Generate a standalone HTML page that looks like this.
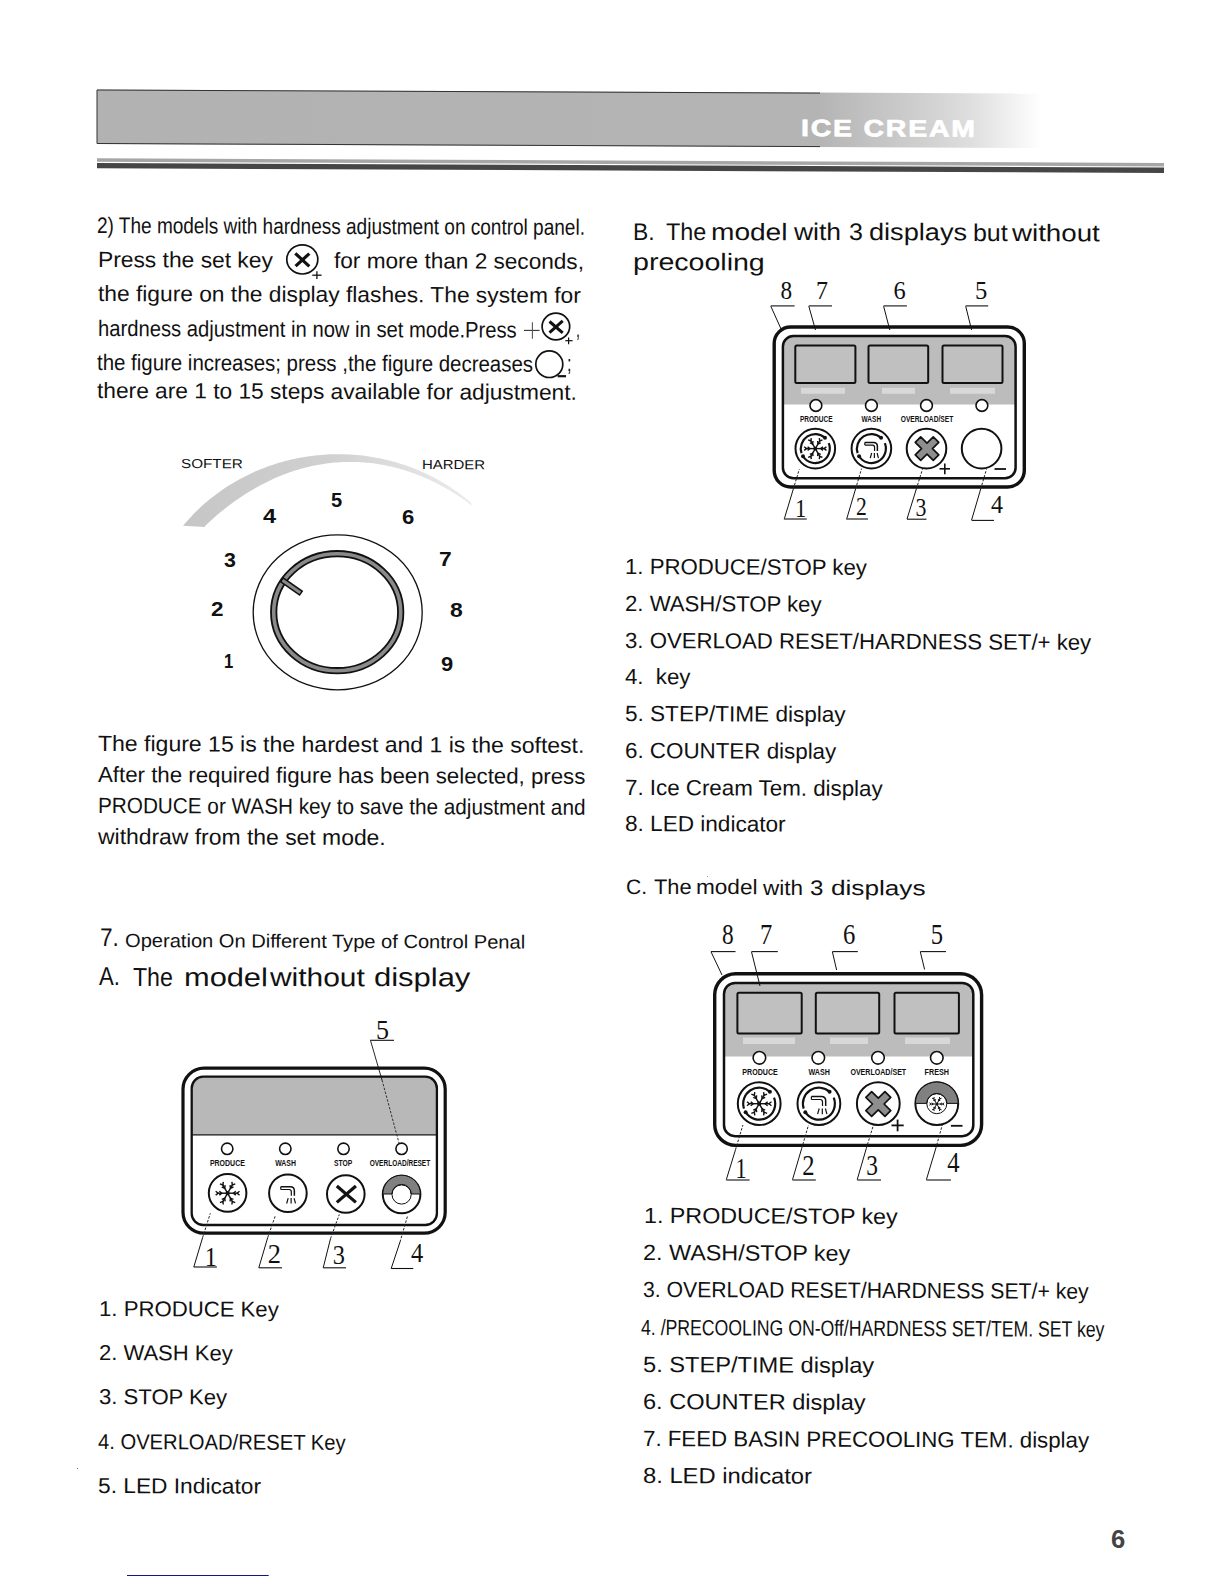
<!DOCTYPE html>
<html><head><meta charset="utf-8"><style>
html,body{margin:0;padding:0;background:#fff}
body{width:1224px;height:1584px;position:relative;overflow:hidden}
.t{position:absolute;white-space:nowrap}
svg{position:absolute;left:0;top:0}
</style></head><body>
<svg width="1224" height="1584" viewBox="0 0 1224 1584"><defs><linearGradient id="hg" x1="97" y1="0" x2="1040" y2="0" gradientUnits="userSpaceOnUse"><stop offset="0" stop-color="#b2b2b2"/><stop offset="0.765" stop-color="#b4b4b4"/><stop offset="0.82" stop-color="#c2c2c2"/><stop offset="0.873" stop-color="#cfcfcf"/><stop offset="0.926" stop-color="#dedede"/><stop offset="0.968" stop-color="#f0f0f0"/><stop offset="1" stop-color="#fefefe"/></linearGradient></defs><polygon points="97,89.5 1040,93.5549 1040,148.0549 97,144.0" fill="url(#hg)"/><polyline points="820,93.1089 97,90.0 97,143.5 820,146.6089" fill="none" stroke="#333" stroke-width="1"/><polygon points="97,158.3 1164,162.8881 1164,166.3881 97,161.8" fill="#a6a6a6"/><polygon points="97,163.0 1164,167.5881 1164,172.8881 97,168.3" fill="#464646"/><ellipse cx="302.3" cy="259.4" rx="15.5" ry="14.6" stroke="#111" stroke-width="1.7" fill="none" /><line x1="295.3" y1="253.4" x2="309.3" y2="266.4" stroke="#111" stroke-width="3.2" /><line x1="309.3" y1="253.6" x2="295.6" y2="266.1" stroke="#111" stroke-width="3.2" /><line x1="312.3" y1="275.2" x2="321.6" y2="275.2" stroke="#111" stroke-width="1.3" /><line x1="316.9" y1="271.3" x2="316.9" y2="279.1" stroke="#111" stroke-width="1.3" /><line x1="524" y1="330.4" x2="539.6" y2="330.4" stroke="#333" stroke-width="1.1" /><line x1="532.4" y1="322.3" x2="532.4" y2="338.8" stroke="#555" stroke-width="1.1" /><ellipse cx="555.9" cy="326.5" rx="13.8" ry="13.4" stroke="#111" stroke-width="1.7" fill="none" /><line x1="549.5" y1="321.5" x2="562.7" y2="332.9" stroke="#111" stroke-width="3" /><line x1="562.7" y1="320.8" x2="549.5" y2="332.6" stroke="#111" stroke-width="3" /><line x1="565.3" y1="340.7" x2="572.6" y2="340.7" stroke="#111" stroke-width="1.2" /><line x1="568.6" y1="337.4" x2="568.6" y2="344.3" stroke="#111" stroke-width="1.2" /><ellipse cx="549.3" cy="364.2" rx="13.5" ry="13.3" stroke="#111" stroke-width="1.7" fill="none" /><line x1="557.6" y1="376.2" x2="566" y2="376.2" stroke="#111" stroke-width="2.2" /><defs><linearGradient id="ag" x1="183" y1="0" x2="472" y2="0" gradientUnits="userSpaceOnUse"><stop offset="0" stop-color="#c6c6c6"/><stop offset="0.5" stop-color="#d0d0d0"/><stop offset="1" stop-color="#ececec"/></linearGradient></defs><path d="M183.0,525.8 L186.0,522.3 L189.0,518.9 L192.0,515.7 L195.0,512.6 L198.0,509.7 L201.0,506.8 L204.0,504.1 L207.0,501.6 L210.0,499.1 L213.0,496.7 L216.0,494.4 L219.0,492.2 L222.0,490.1 L225.0,488.0 L228.0,486.1 L231.0,484.2 L234.0,482.4 L237.0,480.7 L240.0,479.0 L243.0,477.4 L246.0,475.9 L249.0,474.4 L252.0,473.0 L255.0,471.6 L258.0,470.3 L261.0,469.1 L264.0,467.9 L267.0,466.8 L270.0,465.7 L273.0,464.7 L276.0,463.7 L279.0,462.8 L282.0,461.9 L285.0,461.1 L288.0,460.4 L291.0,459.6 L294.0,459.0 L297.0,458.3 L300.0,457.7 L303.0,457.2 L306.0,456.7 L309.0,456.3 L312.0,455.9 L315.0,455.5 L318.0,455.2 L321.0,454.9 L324.0,454.7 L327.0,454.5 L330.0,454.3 L333.0,454.2 L336.0,454.2 L339.0,454.2 L342.0,454.2 L345.0,454.3 L348.0,454.4 L351.0,454.6 L354.0,454.8 L357.0,455.0 L360.0,455.3 L363.0,455.6 L366.0,456.0 L369.0,456.4 L372.0,456.9 L375.0,457.4 L378.0,458.0 L381.0,458.6 L384.0,459.2 L387.0,459.9 L390.0,460.7 L393.0,461.5 L396.0,462.3 L399.0,463.2 L402.0,464.2 L405.0,465.1 L408.0,466.2 L411.0,467.3 L414.0,468.4 L417.0,469.6 L420.0,470.9 L423.0,472.2 L426.0,473.6 L429.0,475.0 L432.0,476.5 L435.0,478.1 L438.0,479.7 L441.0,481.4 L444.0,483.2 L447.0,485.0 L450.0,486.9 L453.0,488.9 L456.0,491.0 L459.0,493.1 L462.0,495.4 L465.0,497.7 L468.0,500.1 L471.0,502.7 L472.0,505.7 L469.0,503.4 L466.0,501.2 L463.0,499.1 L460.0,497.1 L457.0,495.1 L454.0,493.2 L451.0,491.3 L448.0,489.5 L445.0,487.8 L442.0,486.2 L439.0,484.5 L436.0,483.0 L433.0,481.5 L430.0,480.1 L427.0,478.7 L424.0,477.4 L421.0,476.1 L418.0,474.9 L415.0,473.8 L412.0,472.7 L409.0,471.7 L406.0,470.7 L403.0,469.7 L400.0,468.9 L397.0,468.0 L394.0,467.3 L391.0,466.5 L388.0,465.9 L385.0,465.3 L382.0,464.7 L379.0,464.2 L376.0,463.7 L373.0,463.3 L370.0,463.0 L367.0,462.7 L364.0,462.4 L361.0,462.2 L358.0,462.0 L355.0,461.9 L352.0,461.9 L349.0,461.9 L346.0,461.9 L343.0,462.0 L340.0,462.2 L337.0,462.4 L334.0,462.6 L331.0,462.9 L328.0,463.3 L325.0,463.7 L322.0,464.2 L319.0,464.7 L316.0,465.2 L313.0,465.8 L310.0,466.5 L307.0,467.2 L304.0,468.0 L301.0,468.8 L298.0,469.7 L295.0,470.6 L292.0,471.6 L289.0,472.6 L286.0,473.7 L283.0,474.8 L280.0,476.0 L277.0,477.3 L274.0,478.6 L271.0,480.0 L268.0,481.4 L265.0,482.9 L262.0,484.4 L259.0,486.0 L256.0,487.7 L253.0,489.4 L250.0,491.2 L247.0,493.0 L244.0,494.9 L241.0,496.9 L238.0,499.0 L235.0,501.1 L232.0,503.2 L229.0,505.5 L226.0,507.8 L223.0,510.2 L220.0,512.6 L217.0,515.1 L214.0,517.7 L211.0,520.4 L208.0,523.2 L205.0,526.0 L205.0,527.0 Z" fill="url(#ag)"/><ellipse cx="337.7" cy="612.4" rx="84.5" ry="77.5" stroke="#111" stroke-width="1.3" fill="none" /><ellipse cx="337.2" cy="612.2" rx="63.5" ry="58.5" stroke="#111" stroke-width="7.2" fill="none" /><ellipse cx="337.2" cy="612.2" rx="63.5" ry="58.5" stroke="#8a8a8a" stroke-width="3.6" fill="none" /><line x1="281.5" y1="579.5" x2="301.5" y2="593.5" stroke="#111" stroke-width="6.2" /><line x1="282.5" y1="580.2" x2="300.3" y2="592.7" stroke="#8a8a8a" stroke-width="3" /><rect x="183" y="1068.2" width="262.2" height="165" rx="21" ry="21" stroke="#111" stroke-width="3.2" fill="none" /><path d="M192,1134.5 V1088 Q192,1076.7 203.3,1076.7 H425.5 Q436.8,1076.7 436.8,1088 V1134.5 Z" fill="#b8b8b8"/><line x1="192" y1="1134.8" x2="436.8" y2="1134.8" stroke="#111" stroke-width="1.2" /><rect x="191.7" y="1076.7" width="245.2" height="148.3" rx="11.5" ry="11.5" stroke="#111" stroke-width="2.3" fill="none" /><circle cx="227.2" cy="1148.8" r="5.7" stroke="#111" stroke-width="1.6" fill="#fff" /><circle cx="285.3" cy="1148.8" r="5.7" stroke="#111" stroke-width="1.6" fill="#fff" /><circle cx="343.5" cy="1148.8" r="5.7" stroke="#111" stroke-width="1.6" fill="#fff" /><circle cx="401.6" cy="1148.8" r="5.7" stroke="#111" stroke-width="1.6" fill="#fff" /><text x="209.9" y="1165.5" font-family="Liberation Sans" font-size="8.5" font-weight="700" fill="#111" textLength="35.0" lengthAdjust="spacingAndGlyphs" >PRODUCE</text><text x="275.2" y="1165.8" font-family="Liberation Sans" font-size="8.5" font-weight="700" fill="#111" textLength="20.7" lengthAdjust="spacingAndGlyphs" >WASH</text><text x="333.9" y="1165.8" font-family="Liberation Sans" font-size="8.5" font-weight="700" fill="#111" textLength="18.3" lengthAdjust="spacingAndGlyphs" >STOP</text><text x="369.7" y="1165.8" font-family="Liberation Sans" font-size="8.5" font-weight="700" fill="#111" textLength="60.5" lengthAdjust="spacingAndGlyphs" >OVERLOAD/RESET</text><circle cx="227.6" cy="1192.9" r="18.8" stroke="#111" stroke-width="2" fill="none" /><circle cx="287.9" cy="1193.2" r="18.8" stroke="#111" stroke-width="2" fill="none" /><circle cx="345.8" cy="1194" r="18.8" stroke="#111" stroke-width="2" fill="none" /><circle cx="401.6" cy="1194.5" r="18.8" stroke="#111" stroke-width="2" fill="none" /><line x1="217.1" y1="1193.2" x2="238.1" y2="1193.2" stroke="#111" stroke-width="1.4" /><line x1="222.35" y1="1184.11" x2="232.85" y2="1202.29" stroke="#111" stroke-width="1.4" /><line x1="232.85" y1="1184.11" x2="222.35" y2="1202.29" stroke="#111" stroke-width="1.4" /><path d="M235.86,1191.26 L233.38,1193.20 L235.86,1195.14" fill="none" stroke="#111" stroke-width="1.4"/><path d="M239.53,1191.26 L237.05,1193.20 L239.53,1195.14" fill="none" stroke="#111" stroke-width="1.4"/><path d="M233.41,1199.38 L230.49,1198.20 L230.05,1201.32" fill="none" stroke="#111" stroke-width="1.4"/><path d="M235.25,1202.56 L232.32,1201.38 L231.89,1204.50" fill="none" stroke="#111" stroke-width="1.4"/><path d="M225.15,1201.32 L224.71,1198.20 L221.79,1199.38" fill="none" stroke="#111" stroke-width="1.4"/><path d="M223.31,1204.50 L222.88,1201.38 L219.95,1202.56" fill="none" stroke="#111" stroke-width="1.4"/><path d="M219.34,1195.14 L221.82,1193.20 L219.34,1191.26" fill="none" stroke="#111" stroke-width="1.4"/><path d="M215.67,1195.14 L218.15,1193.20 L215.67,1191.26" fill="none" stroke="#111" stroke-width="1.4"/><path d="M221.79,1187.02 L224.71,1188.20 L225.15,1185.08" fill="none" stroke="#111" stroke-width="1.4"/><path d="M219.95,1183.84 L222.88,1185.02 L223.31,1181.90" fill="none" stroke="#111" stroke-width="1.4"/><path d="M230.05,1185.08 L230.49,1188.20 L233.41,1187.02" fill="none" stroke="#111" stroke-width="1.4"/><path d="M231.89,1181.90 L232.32,1185.02 L235.25,1183.84" fill="none" stroke="#111" stroke-width="1.4"/><circle cx="227.6" cy="1193.2" r="2.1" stroke="none" stroke-width="0" fill="#111" /><path d="M280.77,1186.76 L290.27,1186.76 Q294.36,1186.76 294.36,1190.84 L294.36,1195.78" fill="none" stroke="#111" stroke-width="1.5"/><path d="M280.77,1189.51 L289.04,1189.51 Q291.32,1189.51 291.32,1191.79 L291.32,1195.78" fill="none" stroke="#111" stroke-width="1.2000000000000002"/><line x1="280.77" y1="1186.76" x2="280.77" y2="1189.51" stroke="#111" stroke-width="1.2000000000000002" /><line x1="288.19" y1="1198.06" x2="286.66" y2="1203.47" stroke="#111" stroke-width="1.2" /><line x1="291.13" y1="1198.06" x2="291.13" y2="1203.47" stroke="#111" stroke-width="1.2" /><line x1="294.07" y1="1198.06" x2="295.5" y2="1203.47" stroke="#111" stroke-width="1.2" /><line x1="336.8" y1="1186" x2="355.9" y2="1202.4" stroke="#111" stroke-width="3.2" /><line x1="355.9" y1="1186" x2="336.8" y2="1202.4" stroke="#111" stroke-width="3.2" /><path d="M382.8,1194 A18.8,18.8 0 0 1 420.40000000000003,1194 L411.20000000000005,1194 A9.6,9.6 0 0 0 392.0,1194 Z" fill="#808080" stroke="#111" stroke-width="1"/><circle cx="401.6" cy="1194.5" r="9.6" stroke="#111" stroke-width="1" fill="none" /><text x="204.8" y="1266.3" font-family="Liberation Serif" font-size="27.5" font-weight="400" fill="#111" textLength="12.1" lengthAdjust="spacingAndGlyphs" >1</text><text x="267.7" y="1263" font-family="Liberation Serif" font-size="27.5" font-weight="400" fill="#111" textLength="13.2" lengthAdjust="spacingAndGlyphs" >2</text><text x="332.7" y="1264" font-family="Liberation Serif" font-size="27.5" font-weight="400" fill="#111" textLength="12.2" lengthAdjust="spacingAndGlyphs" >3</text><text x="411" y="1261.8" font-family="Liberation Serif" font-size="27.5" font-weight="400" fill="#111" textLength="12.2" lengthAdjust="spacingAndGlyphs" >4</text><line x1="193.8" y1="1267" x2="216.9" y2="1267" stroke="#111" stroke-width="1.1" /><line x1="258.8" y1="1267.8" x2="282" y2="1267.8" stroke="#111" stroke-width="1.1" /><line x1="323.2" y1="1267.8" x2="346" y2="1267.8" stroke="#111" stroke-width="1.1" /><line x1="391.2" y1="1268.5" x2="413.3" y2="1268.5" stroke="#111" stroke-width="1.1" /><line x1="193.8" y1="1267" x2="202.6" y2="1237.6" stroke="#111" stroke-width="1" /><line x1="202.6" y1="1237.6" x2="210.3" y2="1213.3" stroke="#222" stroke-width="1" stroke-dasharray="2.5 1.5"/><line x1="258.8" y1="1267.8" x2="267.7" y2="1237.6" stroke="#111" stroke-width="1" /><line x1="267.7" y1="1237.6" x2="275.4" y2="1215.5" stroke="#222" stroke-width="1" stroke-dasharray="2.5 1.5"/><line x1="323.2" y1="1267.8" x2="330.5" y2="1238.7" stroke="#111" stroke-width="1" /><line x1="330.5" y1="1238.7" x2="339.3" y2="1214.4" stroke="#222" stroke-width="1" stroke-dasharray="2.5 1.5"/><line x1="391.2" y1="1268.5" x2="400" y2="1242" stroke="#111" stroke-width="1" /><line x1="400" y1="1242" x2="407.7" y2="1215.5" stroke="#222" stroke-width="1" stroke-dasharray="2.5 1.5"/><text x="376" y="1038.9" font-family="Liberation Serif" font-size="27" font-weight="400" fill="#111" textLength="13.0" lengthAdjust="spacingAndGlyphs" >5</text><line x1="370.2" y1="1040.3" x2="394" y2="1040.3" stroke="#111" stroke-width="1.1" /><line x1="370.5" y1="1040.5" x2="382" y2="1080" stroke="#111" stroke-width="0.9" /><line x1="382" y1="1080" x2="399" y2="1143" stroke="#222" stroke-width="0.9" stroke-dasharray="2.5 1.5"/><path d="M782.9,404.5 V346.5 Q782.9,336.0 793.4,336.0 H1005.1 Q1015.6,336.0 1015.6,346.5 V404.5 Z" fill="#bcbcbc"/><rect x="774.2" y="327.0" width="250.0999999999999" height="160.0" rx="16.5" ry="16.5" stroke="#111" stroke-width="3.4" fill="none" /><rect x="782.9" y="336.0" width="232.70000000000005" height="142.3" rx="10.5" ry="10.5" stroke="#111" stroke-width="2.5" fill="none" /><rect x="795.3" y="345.5" width="60.10000000000002" height="37.5" rx="1.5" fill="#c0c0c0" stroke="#111" stroke-width="2"/><rect x="868.5" y="345.5" width="59.700000000000045" height="37.5" rx="1.5" fill="#c0c0c0" stroke="#111" stroke-width="2"/><rect x="942.5" y="345.5" width="60.0" height="37.5" rx="1.5" fill="#c0c0c0" stroke="#111" stroke-width="2"/><circle cx="815.9" cy="405.5" r="5.9" stroke="#111" stroke-width="1.6" fill="#fff" /><circle cx="871.4" cy="405.5" r="5.9" stroke="#111" stroke-width="1.6" fill="#fff" /><circle cx="926.5" cy="405.5" r="5.9" stroke="#111" stroke-width="1.6" fill="#fff" /><circle cx="981.9" cy="405.5" r="5.9" stroke="#111" stroke-width="1.6" fill="#fff" /><text x="799.9" y="421.8" font-family="Liberation Sans" font-size="8.5" font-weight="700" fill="#111" textLength="32.6" lengthAdjust="spacingAndGlyphs" >PRODUCE</text><text x="861.6" y="421.8" font-family="Liberation Sans" font-size="8.5" font-weight="700" fill="#111" textLength="19.5" lengthAdjust="spacingAndGlyphs" >WASH</text><text x="900.7" y="421.8" font-family="Liberation Sans" font-size="8.5" font-weight="700" fill="#111" textLength="52.6" lengthAdjust="spacingAndGlyphs" >OVERLOAD/SET</text><circle cx="815.3" cy="448.6" r="19.8" stroke="#111" stroke-width="2" fill="none" /><circle cx="871.4" cy="448.6" r="19.8" stroke="#111" stroke-width="2" fill="none" /><circle cx="926.5" cy="448.6" r="19.8" stroke="#111" stroke-width="2" fill="none" /><circle cx="981.6" cy="448.6" r="19.8" stroke="#111" stroke-width="2" fill="none" /><path d="M801.51,453.08 A14.5,14.5 0 0 1 825.00,437.82" fill="none" stroke="#111" stroke-width="2.2"/><path d="M828.74,443.17 A14.5,14.5 0 0 1 803.00,456.28" fill="none" stroke="#111" stroke-width="2.2"/><circle cx="825.0" cy="437.82" r="1.9800000000000002" stroke="none" stroke-width="0" fill="#111" /><circle cx="803.0" cy="456.28" r="1.9800000000000002" stroke="none" stroke-width="0" fill="#111" /><line x1="805.5" y1="448.6" x2="825.1" y2="448.6" stroke="#111" stroke-width="1.4" /><line x1="810.4" y1="440.11" x2="820.2" y2="457.09" stroke="#111" stroke-width="1.4" /><line x1="820.2" y1="440.11" x2="810.4" y2="457.09" stroke="#111" stroke-width="1.4" /><path d="M823.01,446.79 L820.69,448.60 L823.01,450.41" fill="none" stroke="#111" stroke-width="1.4"/><path d="M826.44,446.79 L824.12,448.60 L826.44,450.41" fill="none" stroke="#111" stroke-width="1.4"/><path d="M820.72,454.37 L818.00,453.27 L817.59,456.18" fill="none" stroke="#111" stroke-width="1.4"/><path d="M822.44,457.34 L819.71,456.24 L819.30,459.15" fill="none" stroke="#111" stroke-width="1.4"/><path d="M813.01,456.18 L812.60,453.27 L809.88,454.37" fill="none" stroke="#111" stroke-width="1.4"/><path d="M811.30,459.15 L810.89,456.24 L808.16,457.34" fill="none" stroke="#111" stroke-width="1.4"/><path d="M807.59,450.41 L809.91,448.60 L807.59,446.79" fill="none" stroke="#111" stroke-width="1.4"/><path d="M804.16,450.41 L806.48,448.60 L804.16,446.79" fill="none" stroke="#111" stroke-width="1.4"/><path d="M809.88,442.83 L812.60,443.93 L813.01,441.02" fill="none" stroke="#111" stroke-width="1.4"/><path d="M808.16,439.86 L810.89,440.96 L811.30,438.05" fill="none" stroke="#111" stroke-width="1.4"/><path d="M817.59,441.02 L818.00,443.93 L820.72,442.83" fill="none" stroke="#111" stroke-width="1.4"/><path d="M819.30,438.05 L819.71,440.96 L822.44,439.86" fill="none" stroke="#111" stroke-width="1.4"/><circle cx="815.3" cy="448.6" r="1.9600000000000002" stroke="none" stroke-width="0" fill="#111" /><path d="M857.61,453.08 A14.5,14.5 0 0 1 881.10,437.82" fill="none" stroke="#111" stroke-width="2.2"/><path d="M884.84,443.17 A14.5,14.5 0 0 1 859.10,456.28" fill="none" stroke="#111" stroke-width="2.2"/><circle cx="881.1" cy="437.82" r="1.9800000000000002" stroke="none" stroke-width="0" fill="#111" /><circle cx="859.1" cy="456.28" r="1.9800000000000002" stroke="none" stroke-width="0" fill="#111" /><path d="M864.80,442.55 L873.60,442.55 Q877.38,442.55 877.38,446.34 L877.38,450.91" fill="none" stroke="#111" stroke-width="1.5"/><path d="M864.80,445.10 L872.46,445.10 Q874.57,445.10 874.57,447.22 L874.57,450.91" fill="none" stroke="#111" stroke-width="1.2000000000000002"/><line x1="864.8" y1="442.55" x2="864.8" y2="445.1" stroke="#111" stroke-width="1.2000000000000002" /><line x1="871.66" y1="453.02" x2="870.26" y2="458.04" stroke="#111" stroke-width="1.2" /><line x1="874.39" y1="453.02" x2="874.39" y2="458.04" stroke="#111" stroke-width="1.2" /><line x1="877.12" y1="453.02" x2="878.44" y2="458.04" stroke="#111" stroke-width="1.2" /><g transform="translate(927,448.6) rotate(45)"><path d="M-3.876,-12.75 H3.876 V-3.876 H12.75 V3.876 H3.876 V12.75 H-3.876 V3.876 H-12.75 V-3.876 H-3.876 Z" fill="#8e8e8e" stroke="#111" stroke-width="1.7" stroke-linejoin="round"/></g><line x1="939.5" y1="468.8" x2="950" y2="468.8" stroke="#111" stroke-width="1.6" /><line x1="944.8" y1="463.5" x2="944.8" y2="474.3" stroke="#111" stroke-width="1.6" /><line x1="994.5" y1="469" x2="1006" y2="469" stroke="#111" stroke-width="1.8" /><rect x="801" y="387.8" width="44" height="6" fill="#d8d8d8"/><rect x="882" y="387.8" width="33" height="6" fill="#d8d8d8"/><rect x="950" y="387.8" width="45" height="6" fill="#d8d8d8"/><text x="780.6" y="299.3" font-family="Liberation Serif" font-size="24.5" font-weight="400" fill="#111" textLength="11.6" lengthAdjust="spacingAndGlyphs" >8</text><text x="816" y="299.3" font-family="Liberation Serif" font-size="24.5" font-weight="400" fill="#111" textLength="12.0" lengthAdjust="spacingAndGlyphs" >7</text><text x="893.4" y="299.3" font-family="Liberation Serif" font-size="24.5" font-weight="400" fill="#111" textLength="12.2" lengthAdjust="spacingAndGlyphs" >6</text><text x="975" y="299.3" font-family="Liberation Serif" font-size="24.5" font-weight="400" fill="#111" textLength="12.3" lengthAdjust="spacingAndGlyphs" >5</text><line x1="770.8" y1="305.9" x2="794.6" y2="305.9" stroke="#111" stroke-width="1.1" /><line x1="808.8" y1="305.9" x2="832" y2="305.9" stroke="#111" stroke-width="1.1" /><line x1="883.6" y1="305.9" x2="906.9" y2="305.9" stroke="#111" stroke-width="1.1" /><line x1="965.7" y1="305.9" x2="988.2" y2="305.9" stroke="#111" stroke-width="1.1" /><line x1="770.8" y1="306.2" x2="781.5" y2="330" stroke="#111" stroke-width="1" /><line x1="808.8" y1="306.2" x2="815.5" y2="330" stroke="#111" stroke-width="1" /><line x1="883.6" y1="306.2" x2="889.8" y2="330" stroke="#111" stroke-width="1" /><line x1="965.7" y1="306.2" x2="971.6" y2="330" stroke="#111" stroke-width="1" /><text x="795.3" y="517.2" font-family="Liberation Serif" font-size="25" font-weight="400" fill="#111" textLength="10.9" lengthAdjust="spacingAndGlyphs" >1</text><text x="856" y="515" font-family="Liberation Serif" font-size="25" font-weight="400" fill="#111" textLength="10.8" lengthAdjust="spacingAndGlyphs" >2</text><text x="915.6" y="515.5" font-family="Liberation Serif" font-size="25" font-weight="400" fill="#111" textLength="10.9" lengthAdjust="spacingAndGlyphs" >3</text><text x="991" y="512.6" font-family="Liberation Serif" font-size="25" font-weight="400" fill="#111" textLength="12.0" lengthAdjust="spacingAndGlyphs" >4</text><line x1="783.9" y1="519" x2="806.7" y2="519" stroke="#111" stroke-width="1.1" /><line x1="846.2" y1="519" x2="868" y2="519" stroke="#111" stroke-width="1.1" /><line x1="907" y1="519.2" x2="926.5" y2="519.2" stroke="#111" stroke-width="1.1" /><line x1="971.6" y1="520.4" x2="994" y2="520.4" stroke="#111" stroke-width="1.1" /><line x1="784.4" y1="518.6" x2="793.33" y2="489" stroke="#111" stroke-width="1" /><line x1="793.33" y1="489" x2="799.3" y2="469.2" stroke="#222" stroke-width="1" stroke-dasharray="2.5 1.5"/><line x1="846.8" y1="518.6" x2="855.56" y2="489" stroke="#111" stroke-width="1" /><line x1="855.56" y1="489" x2="861.6" y2="468.6" stroke="#222" stroke-width="1" stroke-dasharray="2.5 1.5"/><line x1="907" y1="519" x2="916.34" y2="489" stroke="#111" stroke-width="1" /><line x1="916.34" y1="489" x2="922.5" y2="469.2" stroke="#222" stroke-width="1" stroke-dasharray="2.5 1.5"/><line x1="971.6" y1="520" x2="980.69" y2="489" stroke="#111" stroke-width="1" /><line x1="980.69" y1="489" x2="986.5" y2="469.2" stroke="#222" stroke-width="1" stroke-dasharray="2.5 1.5"/><path d="M724.0,1056.5 V994.0 Q724.0,983.0 735.0,983.0 H962.3 Q973.3,983.0 973.3,994.0 V1056.5 Z" fill="#bcbcbc"/><rect x="714.7" y="973.8" width="266.9" height="171.60000000000014" rx="21" ry="21" stroke="#111" stroke-width="3.4" fill="none" /><rect x="724.0" y="983.0" width="249.29999999999995" height="153.20000000000005" rx="11" ry="11" stroke="#111" stroke-width="2.5" fill="none" /><rect x="737.4" y="992.8" width="64.30000000000007" height="40.799999999999955" rx="1.5" fill="#c0c0c0" stroke="#111" stroke-width="2"/><rect x="815.8" y="992.8" width="63.40000000000009" height="40.799999999999955" rx="1.5" fill="#c0c0c0" stroke="#111" stroke-width="2"/><rect x="894.5" y="992.8" width="64.39999999999998" height="40.799999999999955" rx="1.5" fill="#c0c0c0" stroke="#111" stroke-width="2"/><circle cx="759.4" cy="1057.8" r="6.3" stroke="#111" stroke-width="1.6" fill="#fff" /><circle cx="818.3" cy="1057.8" r="6.3" stroke="#111" stroke-width="1.6" fill="#fff" /><circle cx="878.0" cy="1057.8" r="6.3" stroke="#111" stroke-width="1.6" fill="#fff" /><circle cx="936.8" cy="1057.8" r="6.3" stroke="#111" stroke-width="1.6" fill="#fff" /><text x="742.3" y="1075.2" font-family="Liberation Sans" font-size="8.5" font-weight="700" fill="#111" textLength="35.5" lengthAdjust="spacingAndGlyphs" >PRODUCE</text><text x="808.5" y="1075.2" font-family="Liberation Sans" font-size="8.5" font-weight="700" fill="#111" textLength="21.4" lengthAdjust="spacingAndGlyphs" >WASH</text><text x="850.4" y="1075.2" font-family="Liberation Sans" font-size="8.5" font-weight="700" fill="#111" textLength="55.8" lengthAdjust="spacingAndGlyphs" >OVERLOAD/SET</text><text x="924.6" y="1075.2" font-family="Liberation Sans" font-size="8.5" font-weight="700" fill="#111" textLength="24.5" lengthAdjust="spacingAndGlyphs" >FRESH</text><circle cx="759.2" cy="1103.7" r="21.4" stroke="#111" stroke-width="2" fill="none" /><circle cx="818.9" cy="1103.7" r="21.4" stroke="#111" stroke-width="2" fill="none" /><circle cx="878.3" cy="1103.7" r="21.4" stroke="#111" stroke-width="2" fill="none" /><circle cx="936.8" cy="1103.7" r="21.4" stroke="#111" stroke-width="2" fill="none" /><path d="M743.98,1108.64 A16,16 0 0 1 769.91,1091.81" fill="none" stroke="#111" stroke-width="2.2"/><path d="M774.03,1097.71 A16,16 0 0 1 745.63,1112.18" fill="none" stroke="#111" stroke-width="2.2"/><circle cx="769.91" cy="1091.81" r="1.9800000000000002" stroke="none" stroke-width="0" fill="#111" /><circle cx="745.63" cy="1112.18" r="1.9800000000000002" stroke="none" stroke-width="0" fill="#111" /><line x1="748.4" y1="1103.7" x2="770.0" y2="1103.7" stroke="#111" stroke-width="1.4" /><line x1="753.8" y1="1094.35" x2="764.6" y2="1113.05" stroke="#111" stroke-width="1.4" /><line x1="764.6" y1="1094.35" x2="753.8" y2="1113.05" stroke="#111" stroke-width="1.4" /><path d="M767.69,1101.71 L765.14,1103.70 L767.69,1105.69" fill="none" stroke="#111" stroke-width="1.4"/><path d="M771.47,1101.71 L768.92,1103.70 L771.47,1105.69" fill="none" stroke="#111" stroke-width="1.4"/><path d="M765.17,1110.06 L762.17,1108.84 L761.72,1112.05" fill="none" stroke="#111" stroke-width="1.4"/><path d="M767.06,1113.33 L764.06,1112.12 L763.61,1115.33" fill="none" stroke="#111" stroke-width="1.4"/><path d="M756.68,1112.05 L756.23,1108.84 L753.23,1110.06" fill="none" stroke="#111" stroke-width="1.4"/><path d="M754.79,1115.33 L754.34,1112.12 L751.34,1113.33" fill="none" stroke="#111" stroke-width="1.4"/><path d="M750.71,1105.69 L753.26,1103.70 L750.71,1101.71" fill="none" stroke="#111" stroke-width="1.4"/><path d="M746.93,1105.69 L749.48,1103.70 L746.93,1101.71" fill="none" stroke="#111" stroke-width="1.4"/><path d="M753.23,1097.34 L756.23,1098.56 L756.68,1095.35" fill="none" stroke="#111" stroke-width="1.4"/><path d="M751.34,1094.07 L754.34,1095.28 L754.79,1092.07" fill="none" stroke="#111" stroke-width="1.4"/><path d="M761.72,1095.35 L762.17,1098.56 L765.17,1097.34" fill="none" stroke="#111" stroke-width="1.4"/><path d="M763.61,1092.07 L764.06,1095.28 L767.06,1094.07" fill="none" stroke="#111" stroke-width="1.4"/><circle cx="759.2" cy="1103.7" r="2.16" stroke="none" stroke-width="0" fill="#111" /><path d="M803.68,1108.64 A16,16 0 0 1 829.61,1091.81" fill="none" stroke="#111" stroke-width="2.2"/><path d="M833.73,1097.71 A16,16 0 0 1 805.33,1112.18" fill="none" stroke="#111" stroke-width="2.2"/><circle cx="829.61" cy="1091.81" r="1.9800000000000002" stroke="none" stroke-width="0" fill="#111" /><circle cx="805.33" cy="1112.18" r="1.9800000000000002" stroke="none" stroke-width="0" fill="#111" /><path d="M811.40,1096.60 L821.40,1096.60 Q825.70,1096.60 825.70,1100.90 L825.70,1106.10" fill="none" stroke="#111" stroke-width="1.5"/><path d="M811.40,1099.50 L820.10,1099.50 Q822.50,1099.50 822.50,1101.90 L822.50,1106.10" fill="none" stroke="#111" stroke-width="1.2000000000000002"/><line x1="811.4" y1="1096.6" x2="811.4" y2="1099.5" stroke="#111" stroke-width="1.2000000000000002" /><line x1="819.2" y1="1108.5" x2="817.6" y2="1114.2" stroke="#111" stroke-width="1.2" /><line x1="822.3" y1="1108.5" x2="822.3" y2="1114.2" stroke="#111" stroke-width="1.2" /><line x1="825.4" y1="1108.5" x2="826.9" y2="1114.2" stroke="#111" stroke-width="1.2" /><g transform="translate(878.3,1104) rotate(45)"><path d="M-4.104,-13.5 H4.104 V-4.104 H13.5 V4.104 H4.104 V13.5 H-4.104 V4.104 H-13.5 V-4.104 H-4.104 Z" fill="#8e8e8e" stroke="#111" stroke-width="1.7" stroke-linejoin="round"/></g><path d="M915.4,1103.4 A21.4,21.4 0 0 1 958.1999999999999,1103.4 L946.8,1103.4 A10,10 0 0 0 926.8,1103.4 Z" fill="#808080" stroke="#111" stroke-width="1"/><circle cx="936.8" cy="1103.7" r="10" stroke="#111" stroke-width="1" fill="none" /><line x1="930.3" y1="1104.0" x2="943.3" y2="1104.0" stroke="#111" stroke-width="1" /><line x1="933.55" y1="1098.37" x2="940.05" y2="1109.63" stroke="#111" stroke-width="1" /><line x1="940.05" y1="1098.37" x2="933.55" y2="1109.63" stroke="#111" stroke-width="1" /><path d="M941.91,1102.80 L940.38,1104.00 L941.91,1105.20" fill="none" stroke="#111" stroke-width="1"/><path d="M944.19,1102.80 L942.65,1104.00 L944.19,1105.20" fill="none" stroke="#111" stroke-width="1"/><path d="M940.40,1107.83 L938.59,1107.10 L938.32,1109.03" fill="none" stroke="#111" stroke-width="1"/><path d="M941.53,1109.80 L939.72,1109.07 L939.45,1111.00" fill="none" stroke="#111" stroke-width="1"/><path d="M935.28,1109.03 L935.01,1107.10 L933.20,1107.83" fill="none" stroke="#111" stroke-width="1"/><path d="M934.15,1111.00 L933.88,1109.07 L932.07,1109.80" fill="none" stroke="#111" stroke-width="1"/><path d="M931.69,1105.20 L933.22,1104.00 L931.69,1102.80" fill="none" stroke="#111" stroke-width="1"/><path d="M929.41,1105.20 L930.95,1104.00 L929.41,1102.80" fill="none" stroke="#111" stroke-width="1"/><path d="M933.20,1100.17 L935.01,1100.90 L935.28,1098.97" fill="none" stroke="#111" stroke-width="1"/><path d="M932.07,1098.20 L933.88,1098.93 L934.15,1097.00" fill="none" stroke="#111" stroke-width="1"/><path d="M938.32,1098.97 L938.59,1100.90 L940.40,1100.17" fill="none" stroke="#111" stroke-width="1"/><path d="M939.45,1097.00 L939.72,1098.93 L941.53,1098.20" fill="none" stroke="#111" stroke-width="1"/><circle cx="936.8" cy="1104" r="1.3" stroke="none" stroke-width="0" fill="#111" /><line x1="891.5" y1="1125.4" x2="903.7" y2="1125.4" stroke="#111" stroke-width="1.8" /><line x1="897.6" y1="1119.6" x2="897.6" y2="1131.3" stroke="#111" stroke-width="1.8" /><line x1="950.9" y1="1125.8" x2="962.5" y2="1125.8" stroke="#111" stroke-width="1.8" /><rect x="743" y="1037.5" width="52" height="6.5" fill="#d8d8d8"/><rect x="830" y="1037.5" width="38" height="6.5" fill="#d8d8d8"/><rect x="905" y="1037.5" width="45" height="6.5" fill="#d8d8d8"/><text x="722" y="944.4" font-family="Liberation Serif" font-size="29.5" font-weight="400" fill="#111" textLength="11.7" lengthAdjust="spacingAndGlyphs" >8</text><text x="760" y="944.4" font-family="Liberation Serif" font-size="29.5" font-weight="400" fill="#111" textLength="12.3" lengthAdjust="spacingAndGlyphs" >7</text><text x="843" y="944.4" font-family="Liberation Serif" font-size="29.5" font-weight="400" fill="#111" textLength="12.3" lengthAdjust="spacingAndGlyphs" >6</text><text x="930.7" y="944.4" font-family="Liberation Serif" font-size="29.5" font-weight="400" fill="#111" textLength="12.3" lengthAdjust="spacingAndGlyphs" >5</text><line x1="711" y1="951.6" x2="735.5" y2="951.6" stroke="#111" stroke-width="1.1" /><line x1="751.5" y1="951.6" x2="777.8" y2="951.6" stroke="#111" stroke-width="1.1" /><line x1="832.4" y1="951.6" x2="857.8" y2="951.6" stroke="#111" stroke-width="1.1" /><line x1="920.3" y1="951.6" x2="946" y2="951.6" stroke="#111" stroke-width="1.1" /><line x1="711" y1="951.8" x2="722" y2="975" stroke="#111" stroke-width="1" /><line x1="751.5" y1="951.8" x2="760" y2="986" stroke="#111" stroke-width="1" /><line x1="832.4" y1="951.8" x2="836.6" y2="970" stroke="#111" stroke-width="1" /><line x1="920.3" y1="951.8" x2="924.6" y2="969.5" stroke="#111" stroke-width="1" /><text x="735.5" y="1177.8" font-family="Liberation Serif" font-size="28.5" font-weight="400" fill="#111" textLength="11.1" lengthAdjust="spacingAndGlyphs" >1</text><text x="802.3" y="1174.8" font-family="Liberation Serif" font-size="28.5" font-weight="400" fill="#111" textLength="12.3" lengthAdjust="spacingAndGlyphs" >2</text><text x="866.3" y="1175.4" font-family="Liberation Serif" font-size="28.5" font-weight="400" fill="#111" textLength="11.7" lengthAdjust="spacingAndGlyphs" >3</text><text x="947.2" y="1172.3" font-family="Liberation Serif" font-size="28.5" font-weight="400" fill="#111" textLength="12.3" lengthAdjust="spacingAndGlyphs" >4</text><line x1="726.3" y1="1180" x2="749.6" y2="1180" stroke="#111" stroke-width="1.1" /><line x1="792.5" y1="1180" x2="815.8" y2="1180" stroke="#111" stroke-width="1.1" /><line x1="857.2" y1="1180" x2="881" y2="1180" stroke="#111" stroke-width="1.1" /><line x1="926.4" y1="1180" x2="950.9" y2="1180" stroke="#111" stroke-width="1.1" /><line x1="726.3" y1="1179.7" x2="735.5" y2="1149.7" stroke="#111" stroke-width="1" /><line x1="735.5" y1="1149.7" x2="742.9" y2="1125" stroke="#222" stroke-width="1" stroke-dasharray="2.5 1.5"/><line x1="792.5" y1="1179.7" x2="801.7" y2="1148.4" stroke="#111" stroke-width="1" /><line x1="801.7" y1="1148.4" x2="808.5" y2="1125" stroke="#222" stroke-width="1" stroke-dasharray="2.5 1.5"/><line x1="857.2" y1="1179.7" x2="866.3" y2="1148.4" stroke="#111" stroke-width="1" /><line x1="866.3" y1="1148.4" x2="873" y2="1126.4" stroke="#222" stroke-width="1" stroke-dasharray="2.5 1.5"/><line x1="926.4" y1="1179.7" x2="935.6" y2="1149" stroke="#111" stroke-width="1" /><line x1="935.6" y1="1149" x2="942.3" y2="1125" stroke="#222" stroke-width="1" stroke-dasharray="2.5 1.5"/><rect x="77" y="1468" width="1" height="1" fill="#777"/><rect x="707" y="876" width="1" height="1" fill="#999"/><rect x="127" y="1575" width="141.7" height="1" fill="#161682"/></svg>
<div class="t" style="left:96.80px;top:215.15px;font-size:22.5px;line-height:22.5px;font-family:'Liberation Sans', sans-serif;font-weight:400;color:#111;transform-origin:0.00px 18.75px;transform:rotate(0.22deg) scaleX(0.8450);">2) The models with hardness adjustment on control panel.</div>
<div class="t" style="left:98.20px;top:249.10px;font-size:22px;line-height:22px;font-family:'Liberation Sans', sans-serif;font-weight:400;color:#111;transform-origin:0.00px 18.50px;transform:rotate(0.22deg) scaleX(1.0362);">Press the set key</div>
<div class="t" style="left:334.00px;top:249.80px;font-size:22px;line-height:22px;font-family:'Liberation Sans', sans-serif;font-weight:400;color:#111;transform-origin:0.00px 18.50px;transform:rotate(0.22deg) scaleX(1.0271);">for more than 2 seconds,</div>
<div class="t" style="left:98.20px;top:282.50px;font-size:22px;line-height:22px;font-family:'Liberation Sans', sans-serif;font-weight:400;color:#111;transform-origin:0.00px 18.50px;transform:rotate(0.22deg) scaleX(1.0345);">the figure on the display flashes. The system for</div>
<div class="t" style="left:98.20px;top:317.65px;font-size:22.5px;line-height:22.5px;font-family:'Liberation Sans', sans-serif;font-weight:400;color:#111;transform-origin:0.00px 18.75px;transform:rotate(0.22deg) scaleX(0.8975);">hardness adjustment in now in set mode.Press</div>
<div class="t" style="left:576.00px;top:319.05px;font-size:22.5px;line-height:22.5px;font-family:'Liberation Sans', sans-serif;font-weight:400;color:#111;transform-origin:0.00px 18.75px;transform:rotate(0.22deg) scaleX(0.6349);">,</div>
<div class="t" style="left:97.20px;top:351.55px;font-size:22.5px;line-height:22.5px;font-family:'Liberation Sans', sans-serif;font-weight:400;color:#111;transform-origin:0.00px 18.75px;transform:rotate(0.22deg) scaleX(0.9078);">the figure increases; press ,the figure decreases</div>
<div class="t" style="left:567.00px;top:352.85px;font-size:22.5px;line-height:22.5px;font-family:'Liberation Sans', sans-serif;font-weight:400;color:#111;transform-origin:0.00px 18.75px;transform:rotate(0.22deg) scaleX(0.7143);">;</div>
<div class="t" style="left:97.20px;top:379.80px;font-size:22px;line-height:22px;font-family:'Liberation Sans', sans-serif;font-weight:400;color:#111;transform-origin:0.00px 18.50px;transform:rotate(0.22deg) scaleX(1.0325);">there are 1 to 15 steps available for adjustment.</div>
<div class="t" style="left:181.20px;top:456.80px;font-size:13px;line-height:13px;font-family:'Liberation Sans', sans-serif;font-weight:400;color:#111;transform-origin:0.00px 11.00px;transform:rotate(0.22deg) scaleX(1.1727);">SOFTER</div>
<div class="t" style="left:421.50px;top:458.00px;font-size:13px;line-height:13px;font-family:'Liberation Sans', sans-serif;font-weight:400;color:#111;transform-origin:0.00px 11.00px;transform:rotate(0.22deg) scaleX(1.1494);">HARDER</div>
<div class="t" style="left:330.80px;top:488.70px;font-size:21px;line-height:21px;font-family:'Liberation Sans', sans-serif;font-weight:700;color:#111;transform-origin:0.00px 18.00px;transform:rotate(0deg) scaleX(0.9573);">5</div>
<div class="t" style="left:262.50px;top:505.00px;font-size:21px;line-height:21px;font-family:'Liberation Sans', sans-serif;font-weight:700;color:#111;transform-origin:0.00px 18.00px;transform:rotate(0deg) scaleX(1.1197);">4</div>
<div class="t" style="left:401.70px;top:506.20px;font-size:21px;line-height:21px;font-family:'Liberation Sans', sans-serif;font-weight:700;color:#111;transform-origin:0.00px 18.00px;transform:rotate(0deg) scaleX(1.0513);">6</div>
<div class="t" style="left:224.10px;top:548.60px;font-size:21px;line-height:21px;font-family:'Liberation Sans', sans-serif;font-weight:700;color:#111;transform-origin:0.00px 18.00px;transform:rotate(0deg) scaleX(1.0171);">3</div>
<div class="t" style="left:439.00px;top:548.30px;font-size:21px;line-height:21px;font-family:'Liberation Sans', sans-serif;font-weight:700;color:#111;transform-origin:0.00px 18.00px;transform:rotate(0deg) scaleX(1.0855);">7</div>
<div class="t" style="left:210.80px;top:598.40px;font-size:21px;line-height:21px;font-family:'Liberation Sans', sans-serif;font-weight:700;color:#111;transform-origin:0.00px 18.00px;transform:rotate(0deg) scaleX(1.0684);">2</div>
<div class="t" style="left:450.00px;top:599.20px;font-size:21px;line-height:21px;font-family:'Liberation Sans', sans-serif;font-weight:700;color:#111;transform-origin:0.00px 18.00px;transform:rotate(0deg) scaleX(1.0940);">8</div>
<div class="t" style="left:223.50px;top:649.80px;font-size:21px;line-height:21px;font-family:'Liberation Sans', sans-serif;font-weight:700;color:#111;transform-origin:0.00px 18.00px;transform:rotate(0deg) scaleX(0.7949);">1</div>
<div class="t" style="left:441.40px;top:652.60px;font-size:21px;line-height:21px;font-family:'Liberation Sans', sans-serif;font-weight:700;color:#111;transform-origin:0.00px 18.00px;transform:rotate(0deg) scaleX(1.0427);">9</div>
<div class="t" style="left:97.60px;top:733.30px;font-size:22px;line-height:22px;font-family:'Liberation Sans', sans-serif;font-weight:400;color:#111;transform-origin:0.00px 18.50px;transform:rotate(0.22deg) scaleX(1.0467);">The figure 15 is the hardest and 1 is the softest.</div>
<div class="t" style="left:97.60px;top:763.50px;font-size:22px;line-height:22px;font-family:'Liberation Sans', sans-serif;font-weight:400;color:#111;transform-origin:0.00px 18.50px;transform:rotate(0.22deg) scaleX(1.0114);">After the required figure has been selected, press</div>
<div class="t" style="left:97.60px;top:794.50px;font-size:22px;line-height:22px;font-family:'Liberation Sans', sans-serif;font-weight:400;color:#111;transform-origin:0.00px 18.50px;transform:rotate(0.22deg) scaleX(0.9417);">PRODUCE or WASH key to save the adjustment and</div>
<div class="t" style="left:97.70px;top:825.70px;font-size:22px;line-height:22px;font-family:'Liberation Sans', sans-serif;font-weight:400;color:#111;transform-origin:-0.10px 18.50px;transform:rotate(0.22deg) scaleX(1.0412);">withdraw from the set mode.</div>
<div class="t" style="left:100.20px;top:924.85px;font-size:25.5px;line-height:25.5px;font-family:'Liberation Sans', sans-serif;font-weight:400;color:#111;transform-origin:0.00px 21.75px;transform:rotate(0.22deg) scaleX(0.8826);">7.</div>
<div class="t" style="left:125.40px;top:931.20px;font-size:19px;line-height:19px;font-family:'Liberation Sans', sans-serif;font-weight:400;color:#111;transform-origin:0.00px 16.00px;transform:rotate(0.22deg) scaleX(1.0573);">Operation On Different Type of Control Penal</div>
<div class="t" style="left:98.70px;top:963.40px;font-size:26px;line-height:26px;font-family:'Liberation Sans', sans-serif;font-weight:400;color:#111;transform-origin:0.00px 22.00px;transform:rotate(0.22deg) scaleX(0.8496);">A.</div>
<div class="t" style="left:133.30px;top:963.53px;font-size:26px;line-height:26px;font-family:'Liberation Sans', sans-serif;font-weight:400;color:#111;transform-origin:0.00px 22.00px;transform:rotate(0.22deg) scaleX(0.8884);">The</div>
<div class="t" style="left:183.60px;top:963.72px;font-size:26px;line-height:26px;font-family:'Liberation Sans', sans-serif;font-weight:400;color:#111;transform-origin:0.00px 22.00px;transform:rotate(0.22deg) scaleX(1.1836);">model</div>
<div class="t" style="left:270.31px;top:964.05px;font-size:26px;line-height:26px;font-family:'Liberation Sans', sans-serif;font-weight:400;color:#111;transform-origin:-0.11px 22.00px;transform:rotate(0.22deg) scaleX(1.1491);">without</div>
<div class="t" style="left:374.00px;top:964.44px;font-size:26px;line-height:26px;font-family:'Liberation Sans', sans-serif;font-weight:400;color:#111;transform-origin:0.00px 22.00px;transform:rotate(0.22deg) scaleX(1.1904);">display</div>
<div class="t" style="left:99.10px;top:1298.85px;font-size:21.5px;line-height:21.5px;font-family:'Liberation Sans', sans-serif;font-weight:400;color:#111;transform-origin:0.00px 17.75px;transform:rotate(0.22deg) scaleX(1.0304);">1. PRODUCE Key</div>
<div class="t" style="left:98.50px;top:1343.35px;font-size:21.5px;line-height:21.5px;font-family:'Liberation Sans', sans-serif;font-weight:400;color:#111;transform-origin:0.00px 17.75px;transform:rotate(0.22deg) scaleX(1.0237);">2. WASH Key</div>
<div class="t" style="left:98.50px;top:1387.45px;font-size:21.5px;line-height:21.5px;font-family:'Liberation Sans', sans-serif;font-weight:400;color:#111;transform-origin:0.00px 17.75px;transform:rotate(0.22deg) scaleX(1.0273);">3. STOP Key</div>
<div class="t" style="left:98.30px;top:1432.45px;font-size:21.5px;line-height:21.5px;font-family:'Liberation Sans', sans-serif;font-weight:400;color:#111;transform-origin:0.00px 17.75px;transform:rotate(0.22deg) scaleX(0.9386);">4. OVERLOAD/RESET Key</div>
<div class="t" style="left:98.30px;top:1476.15px;font-size:21.5px;line-height:21.5px;font-family:'Liberation Sans', sans-serif;font-weight:400;color:#111;transform-origin:0.00px 17.75px;transform:rotate(0.22deg) scaleX(1.0571);">5. LED Indicator</div>
<div class="t" style="left:632.90px;top:219.50px;font-size:24px;line-height:24px;font-family:'Liberation Sans', sans-serif;font-weight:400;color:#111;transform-origin:0.00px 20.50px;transform:rotate(0.22deg) scaleX(0.9515);">B.</div>
<div class="t" style="left:666.30px;top:219.63px;font-size:24px;line-height:24px;font-family:'Liberation Sans', sans-serif;font-weight:400;color:#111;transform-origin:0.00px 20.50px;transform:rotate(0.22deg) scaleX(0.9710);">The</div>
<div class="t" style="left:711.40px;top:219.80px;font-size:24px;line-height:24px;font-family:'Liberation Sans', sans-serif;font-weight:400;color:#111;transform-origin:0.00px 20.50px;transform:rotate(0.22deg) scaleX(1.1697);">model</div>
<div class="t" style="left:793.81px;top:220.11px;font-size:24px;line-height:24px;font-family:'Liberation Sans', sans-serif;font-weight:400;color:#111;transform-origin:-0.11px 20.50px;transform:rotate(0.22deg) scaleX(1.1005);">with</div>
<div class="t" style="left:848.60px;top:220.32px;font-size:24px;line-height:24px;font-family:'Liberation Sans', sans-serif;font-weight:400;color:#111;transform-origin:0.00px 20.50px;transform:rotate(0.22deg) scaleX(1.0376);">3</div>
<div class="t" style="left:869.20px;top:220.40px;font-size:24px;line-height:24px;font-family:'Liberation Sans', sans-serif;font-weight:400;color:#111;transform-origin:0.00px 20.50px;transform:rotate(0.22deg) scaleX(1.1303);">displays</div>
<div class="t" style="left:973.40px;top:220.79px;font-size:24px;line-height:24px;font-family:'Liberation Sans', sans-serif;font-weight:400;color:#111;transform-origin:0.00px 20.50px;transform:rotate(0.22deg) scaleX(1.0389);">but</div>
<div class="t" style="left:1012.32px;top:220.94px;font-size:24px;line-height:24px;font-family:'Liberation Sans', sans-serif;font-weight:400;color:#111;transform-origin:-0.12px 20.50px;transform:rotate(0.22deg) scaleX(1.1537);">without</div>
<div class="t" style="left:633.20px;top:250.10px;font-size:24px;line-height:24px;font-family:'Liberation Sans', sans-serif;font-weight:400;color:#111;transform-origin:0.00px 20.50px;transform:rotate(0.22deg) scaleX(1.1897);">precooling</div>
<div class="t" style="left:625.40px;top:556.30px;font-size:22px;line-height:22px;font-family:'Liberation Sans', sans-serif;font-weight:400;color:#111;transform-origin:0.00px 18.50px;transform:rotate(0.22deg) scaleX(1.0075);">1. PRODUCE/STOP key</div>
<div class="t" style="left:624.60px;top:593.30px;font-size:22px;line-height:22px;font-family:'Liberation Sans', sans-serif;font-weight:400;color:#111;transform-origin:0.00px 18.50px;transform:rotate(0.22deg) scaleX(1.0067);">2. WASH/STOP key</div>
<div class="t" style="left:624.60px;top:630.00px;font-size:22px;line-height:22px;font-family:'Liberation Sans', sans-serif;font-weight:400;color:#111;transform-origin:0.00px 18.50px;transform:rotate(0.22deg) scaleX(1.0073);">3. OVERLOAD RESET/HARDNESS SET/+ key</div>
<div class="t" style="left:624.60px;top:666.30px;font-size:22px;line-height:22px;font-family:'Liberation Sans', sans-serif;font-weight:400;color:#111;transform-origin:0.00px 18.50px;transform:rotate(0.22deg) scaleX(1.0093);">4.&nbsp; key</div>
<div class="t" style="left:624.60px;top:703.10px;font-size:22px;line-height:22px;font-family:'Liberation Sans', sans-serif;font-weight:400;color:#111;transform-origin:0.00px 18.50px;transform:rotate(0.22deg) scaleX(1.0251);">5. STEP/TIME display</div>
<div class="t" style="left:624.60px;top:739.90px;font-size:22px;line-height:22px;font-family:'Liberation Sans', sans-serif;font-weight:400;color:#111;transform-origin:0.00px 18.50px;transform:rotate(0.22deg) scaleX(1.0164);">6. COUNTER display</div>
<div class="t" style="left:624.60px;top:776.50px;font-size:22px;line-height:22px;font-family:'Liberation Sans', sans-serif;font-weight:400;color:#111;transform-origin:0.00px 18.50px;transform:rotate(0.22deg) scaleX(1.0146);">7. Ice Cream Tem. display</div>
<div class="t" style="left:624.60px;top:813.40px;font-size:22px;line-height:22px;font-family:'Liberation Sans', sans-serif;font-weight:400;color:#111;transform-origin:0.00px 18.50px;transform:rotate(0.22deg) scaleX(1.0262);">8. LED indicator</div>
<div class="t" style="left:626.10px;top:876.00px;font-size:21px;line-height:21px;font-family:'Liberation Sans', sans-serif;font-weight:400;color:#111;transform-origin:0.00px 18.00px;transform:rotate(0.22deg) scaleX(1.0000);">C.</div>
<div class="t" style="left:653.90px;top:876.11px;font-size:21px;line-height:21px;font-family:'Liberation Sans', sans-serif;font-weight:400;color:#111;transform-origin:0.00px 18.00px;transform:rotate(0.22deg) scaleX(1.0359);">The</div>
<div class="t" style="left:695.70px;top:876.26px;font-size:21px;line-height:21px;font-family:'Liberation Sans', sans-serif;font-weight:400;color:#111;transform-origin:0.00px 18.00px;transform:rotate(0.22deg) scaleX(1.0752);">model</div>
<div class="t" style="left:762.91px;top:876.52px;font-size:21px;line-height:21px;font-family:'Liberation Sans', sans-serif;font-weight:400;color:#111;transform-origin:-0.11px 18.00px;transform:rotate(0.22deg) scaleX(1.0695);">with</div>
<div class="t" style="left:809.70px;top:876.70px;font-size:21px;line-height:21px;font-family:'Liberation Sans', sans-serif;font-weight:400;color:#111;transform-origin:0.00px 18.00px;transform:rotate(0.22deg) scaleX(1.1453);">3</div>
<div class="t" style="left:831.20px;top:876.78px;font-size:21px;line-height:21px;font-family:'Liberation Sans', sans-serif;font-weight:400;color:#111;transform-origin:0.00px 18.00px;transform:rotate(0.22deg) scaleX(1.2451);">displays</div>
<div class="t" style="left:644.10px;top:1204.70px;font-size:22px;line-height:22px;font-family:'Liberation Sans', sans-serif;font-weight:400;color:#111;transform-origin:0.00px 18.50px;transform:rotate(0.22deg) scaleX(1.0567);">1. PRODUCE/STOP key</div>
<div class="t" style="left:643.00px;top:1242.30px;font-size:22px;line-height:22px;font-family:'Liberation Sans', sans-serif;font-weight:400;color:#111;transform-origin:0.00px 18.50px;transform:rotate(0.22deg) scaleX(1.0615);">2. WASH/STOP key</div>
<div class="t" style="left:643.00px;top:1279.20px;font-size:22px;line-height:22px;font-family:'Liberation Sans', sans-serif;font-weight:400;color:#111;transform-origin:0.00px 18.50px;transform:rotate(0.22deg) scaleX(0.9630);">3. OVERLOAD RESET/HARDNESS SET/+ key</div>
<div class="t" style="left:641.40px;top:1316.80px;font-size:22px;line-height:22px;font-family:'Liberation Sans', sans-serif;font-weight:400;color:#111;transform-origin:0.00px 18.50px;transform:rotate(0.22deg) scaleX(0.8026);">4. /PRECOOLING ON-Off/HARDNESS SET/TEM. SET key</div>
<div class="t" style="left:643.00px;top:1353.50px;font-size:22px;line-height:22px;font-family:'Liberation Sans', sans-serif;font-weight:400;color:#111;transform-origin:0.00px 18.50px;transform:rotate(0.22deg) scaleX(1.0739);">5. STEP/TIME display</div>
<div class="t" style="left:643.00px;top:1390.50px;font-size:22px;line-height:22px;font-family:'Liberation Sans', sans-serif;font-weight:400;color:#111;transform-origin:0.00px 18.50px;transform:rotate(0.22deg) scaleX(1.0707);">6. COUNTER display</div>
<div class="t" style="left:643.00px;top:1428.10px;font-size:22px;line-height:22px;font-family:'Liberation Sans', sans-serif;font-weight:400;color:#111;transform-origin:0.00px 18.50px;transform:rotate(0.22deg) scaleX(1.0116);">7. FEED BASIN PRECOOLING TEM. display</div>
<div class="t" style="left:643.00px;top:1465.10px;font-size:22px;line-height:22px;font-family:'Liberation Sans', sans-serif;font-weight:400;color:#111;transform-origin:0.00px 18.50px;transform:rotate(0.22deg) scaleX(1.0792);">8. LED indicator</div>
<div class="t" style="left:800.50px;top:117.25px;font-size:23.5px;line-height:23.5px;font-family:'Liberation Sans', sans-serif;font-weight:700;color:#fff;transform-origin:0.00px 19.75px;transform:rotate(0.25deg) scaleX(1.2092);-webkit-text-stroke:0.7px #fff;letter-spacing:1.5px;">ICE CREAM</div>
<div class="t" style="left:1111.20px;top:1526.30px;font-size:26px;line-height:26px;font-family:'Liberation Sans', sans-serif;font-weight:700;color:#444;transform-origin:0.00px 22.00px;transform:rotate(0deg) scaleX(0.9862);">6</div>
</body></html>
